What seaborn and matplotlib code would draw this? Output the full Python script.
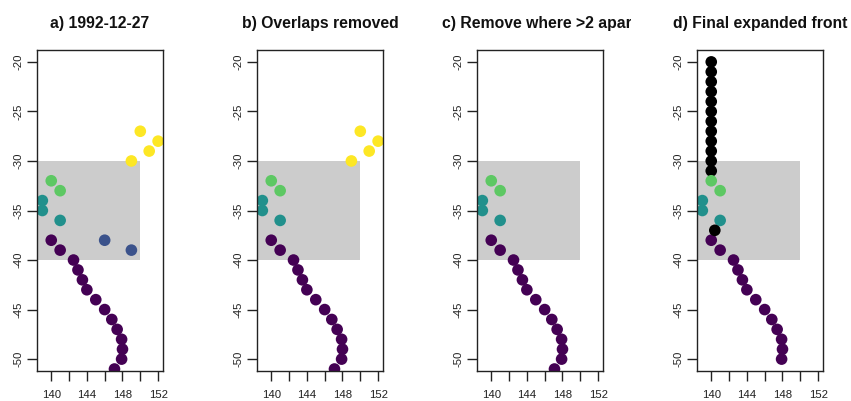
import matplotlib
matplotlib.use("Agg")
import matplotlib.pyplot as plt
import seaborn as sns
import pandas as pd
from matplotlib.patches import Rectangle
from matplotlib.transforms import Bbox

# ---------------- data ----------------
titles = ["a) 1992-12-27", "b) Overlaps removed",
          "c) Remove where >2 apart", "d) Final expanded front"]

# front segments (group id -> viridis colour)
g1_lon = [140, 141, 142.5, 143, 143.5, 144, 145, 146, 146.8, 147.4, 147.9, 148, 147.9, 147.1]
g1_lat = [-38, -39, -40, -41, -42, -43, -44, -45, -46, -47, -48, -49, -50, -51]
g2_lon = [146, 149]
g2_lat = [-38, -39]
g3_lon = [139, 139, 141]
g3_lat = [-34, -35, -36]
g4_lon = [140, 141]
g4_lat = [-32, -33]
g5_lon = [150, 152, 151, 149]
g5_lat = [-27, -28, -29, -30]

# final front: purple segment without the out-of-range point
g1f_lon = [140, 141, 142.5, 143, 143.5, 144, 145, 146, 146.8, 147.4, 147.9, 148, 147.9]
g1f_lat = [-38, -39, -40, -41, -42, -43, -44, -45, -46, -47, -48, -49, -50]

# expanded points (black)
ext_lon = [140, 140, 140, 140, 140, 140, 140, 140, 140, 140, 140, 140]
ext_lat = [-20, -21, -22, -23, -24, -25, -26, -27, -28, -29, -30, -31]
gap_lon = [140.4]
gap_lat = [-37]

box_lon = [135, 150]
box_lat = [-40, -30]

x_ticks = [140, 142, 144, 146, 148, 150, 152]
x_labels = ["140", "", "144", "", "148", "", "152"]
y_ticks = [-20, -25, -30, -35, -40, -45, -50]
y_labels = ["-20", "-25", "-30", "-35", "-40", "-45", "-50"]

palette = {"1": "#440154", "2": "#3B528B", "3": "#21908C",
           "4": "#5DC863", "5": "#FDE725", "ext": "#000000"}


def seg(lon, lat, g):
    return pd.DataFrame({"lon": lon, "lat": lat, "group": g})


panel_a = pd.concat([seg(g1_lon, g1_lat, "1"), seg(g2_lon, g2_lat, "2"),
                     seg(g3_lon, g3_lat, "3"), seg(g4_lon, g4_lat, "4"),
                     seg(g5_lon, g5_lat, "5")], ignore_index=True)
panel_b = pd.concat([seg(g1_lon, g1_lat, "1"), seg(g3_lon, g3_lat, "3"),
                     seg(g4_lon, g4_lat, "4"), seg(g5_lon, g5_lat, "5")],
                    ignore_index=True)
panel_c = pd.concat([seg(g1_lon, g1_lat, "1"), seg(g3_lon, g3_lat, "3"),
                     seg(g4_lon, g4_lat, "4")], ignore_index=True)
panel_d = pd.concat([seg(ext_lon, ext_lat, "ext"), seg(g1f_lon, g1f_lat, "1"),
                     seg(g3_lon, g3_lat, "3"), seg(g4_lon, g4_lat, "4"),
                     seg(gap_lon, gap_lat, "ext")], ignore_index=True)
panels = [panel_a, panel_b, panel_c, panel_d]

# ---------------- figure ----------------
plt.rcParams["font.family"] = ["Liberation Sans", "DejaVu Sans"]
W, H = 851, 401
fig = plt.figure(figsize=(W / 100, H / 100), dpi=100)

ax_lefts = [37, 257, 477, 697]
ax_w, ax_top, ax_bot = 126, 50, 371
xlim = (138.4, 152.55)
ylim = (-51.2, -18.8)
clip_right = [W / 4, W / 2, 631, W]

for i, (df, title, left) in enumerate(zip(panels, titles, ax_lefts)):
    ax = fig.add_axes([left / W, 1 - ax_bot / H, ax_w / W, (ax_bot - ax_top) / H])
    ax.add_patch(Rectangle((box_lon[0], box_lat[0]), box_lon[1] - box_lon[0],
                           box_lat[1] - box_lat[0], facecolor="#CCCCCC",
                           edgecolor="none", zorder=0))
    sns.scatterplot(data=df, x="lon", y="lat", hue="group", palette=palette,
                    s=70, linewidth=0, legend=False, ax=ax, zorder=2)
    ax.set_xlim(*xlim)
    ax.set_ylim(*ylim)
    ax.set_xlabel("")
    ax.set_ylabel("")
    ax.set_xticks(x_ticks)
    ax.set_xticklabels(x_labels)
    ax.set_yticks(y_ticks)
    ax.set_yticklabels(y_labels, rotation=90, va="center")
    ax.tick_params(direction="out", length=7, width=1, colors="#222222",
                   labelsize=8.2, labelcolor="#222222")
    ax.tick_params(axis="x", pad=6.5)
    ax.tick_params(axis="y", pad=3)
    for sp in ax.spines.values():
        sp.set_color("#222222")
        sp.set_linewidth(1)
    t = ax.set_title(title, fontsize=11.3, fontweight="bold", pad=16,
                     color="#111111")
    # titles are clipped to each panel's region of the figure
    t.set_clip_box(Bbox.from_extents(i * W / 4 - 2, 0, clip_right[i], H))
    t.set_clip_on(True)

fig.savefig("out.png", dpi=100)
